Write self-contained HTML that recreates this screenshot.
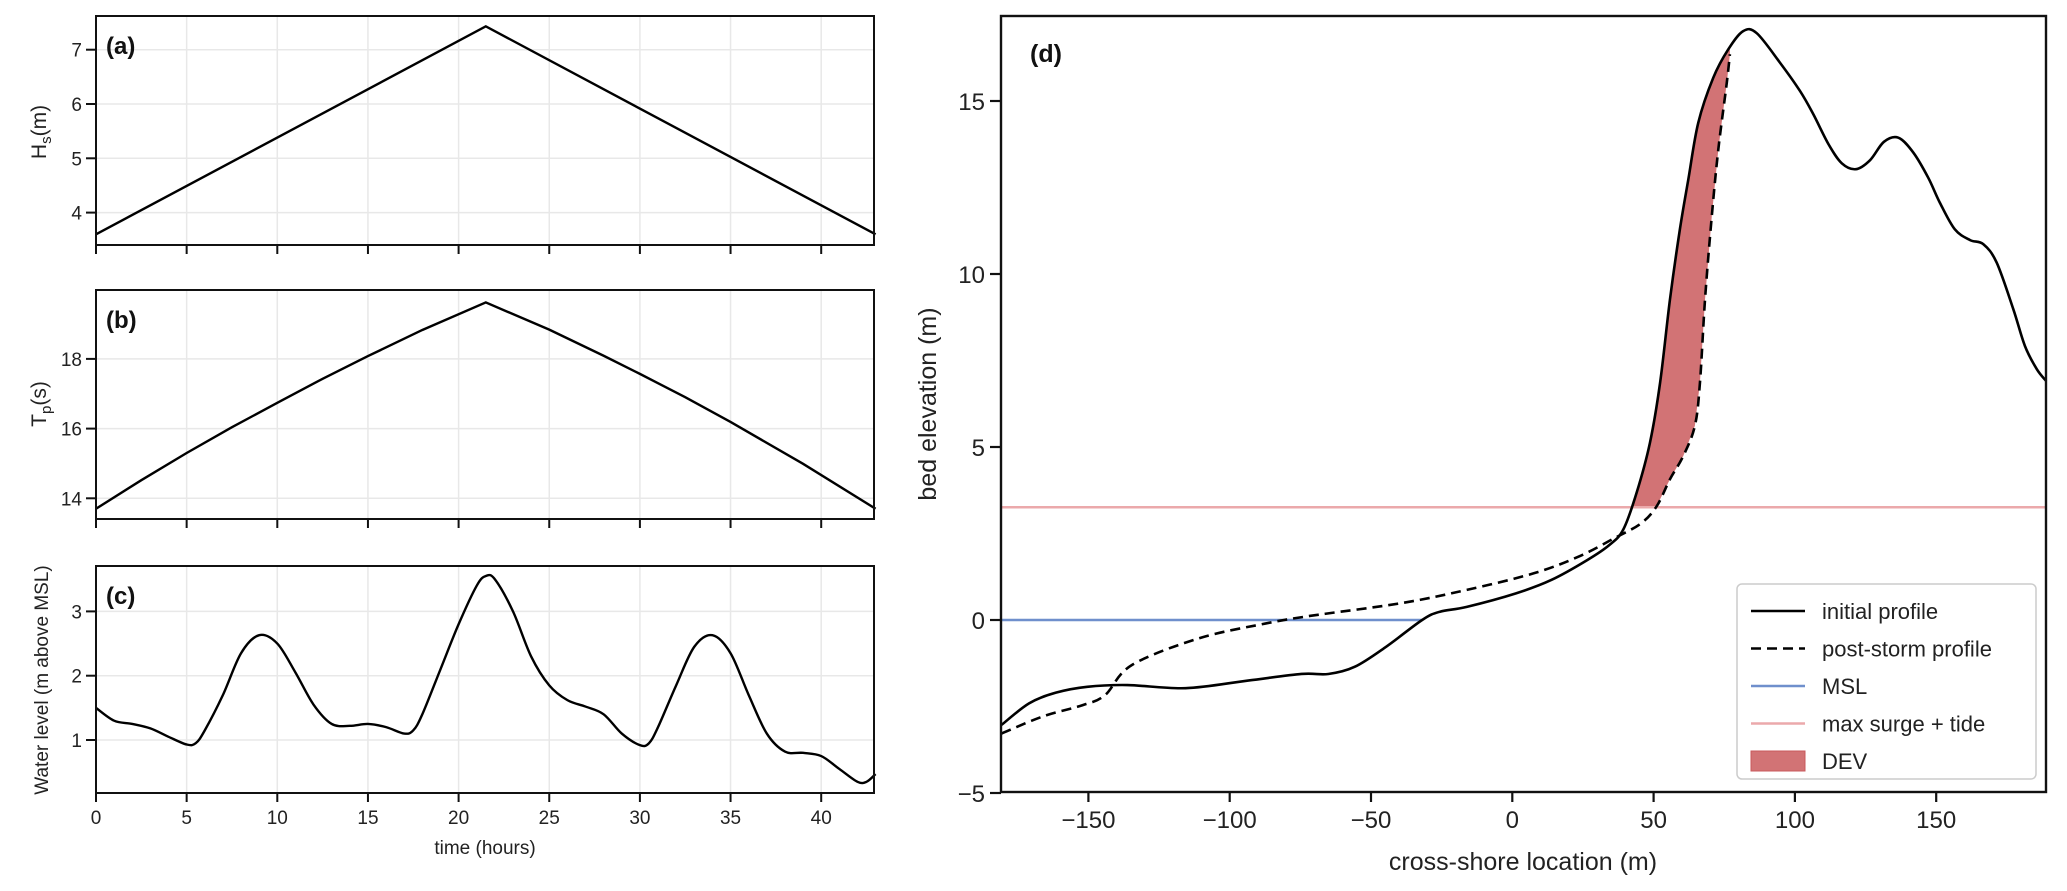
<!DOCTYPE html>
<html><head><meta charset="utf-8"><style>
body{margin:0;background:#fff;}
svg{display:block;font-family:"Liberation Sans",Arial,sans-serif;}
</style></head><body>
<svg id="fig" width="2067" height="891" viewBox="0 0 2067 891"></svg>
<script>
// ---------- data ----------
const hsTime=[0,21.5,43];
const hsVals=[3.6,7.43,3.6];
const tpTime=[0,2.5,5,7.5,10,12.5,15,18,21.5,25,28,30,32.5,35,39,43];
const tpVals=[13.7,14.52,15.3,16.04,16.74,17.43,18.08,18.83,19.62,18.84,18.09,17.57,16.9,16.19,14.99,13.7];
const wlTime=[0,1,2,3,4,5,5.5,6,7,8,9,10,11,12,13,14,15,16,17,17.5,18,19,20,21,21.5,22,23,24,25,26,27,28,29,30,30.5,31,32,33,34,35,36,37,38,39,40,41,42,42.5,43];
const wlVals=[1.5,1.3,1.25,1.18,1.05,0.93,0.95,1.15,1.7,2.35,2.63,2.5,2.05,1.55,1.25,1.22,1.25,1.2,1.1,1.15,1.4,2.1,2.8,3.4,3.55,3.5,3.0,2.3,1.85,1.62,1.52,1.4,1.1,0.92,0.95,1.2,1.85,2.45,2.63,2.35,1.7,1.1,0.82,0.8,0.75,0.55,0.35,0.35,0.47];
const timeTicks=[0,5,10,15,20,25,30,35,40];
const hsTicks=[4,5,6,7];
const tpTicks=[14,16,18];
const wlTicks=[1,2,3];
const initX=[-180.7,-171,-161.5,-150.4,-136.2,-115.6,-93.5,-74.6,-65.1,-55.7,-44.6,-31.9,-25.6,-16.1,1.3,13.9,26.5,34.4,39.3,44,48.7,52.3,55.8,59.3,62.3,65.8,71.1,76.4,81.7,86.5,94.7,101.8,106.5,111.9,116.6,121.6,126.6,131.5,136.6,141.9,147.2,151.3,156.6,162,166.7,171.4,177.3,181.4,185.6,188.9];
const initZ=[-3.03,-2.41,-2.10,-1.93,-1.88,-1.97,-1.75,-1.56,-1.56,-1.35,-0.77,0,0.24,0.38,0.77,1.16,1.73,2.17,2.62,3.68,5.12,6.86,9.27,11.29,12.74,14.37,15.67,16.49,17.02,16.96,16.11,15.29,14.62,13.75,13.2,13.03,13.29,13.82,13.94,13.51,12.78,12.06,11.29,10.98,10.86,10.33,8.98,7.92,7.25,6.91];
const postX=[-180.7,-166.2,-152,-144.1,-134.6,-110.9,-87.2,-71.4,-39.8,-16.1,7.6,23.4,36,45.5,51.1,55.8,60.5,64.6,66.4,68.2,70.6,72.9,75.9,77.0];
const postZ=[-3.28,-2.79,-2.46,-2.17,-1.30,-0.53,-0.10,0.12,0.48,0.87,1.35,1.83,2.36,2.79,3.29,4.07,4.74,5.61,6.86,9.27,11.68,13.6,15.53,16.35];
const mslLevel=0, mslEnd=-31.9;
const surgeLevel=3.26;
const xTicksD=[-150,-100,-50,0,50,100,150];
const yTicksD=[-5,0,5,10,15];

// ---------- helpers ----------
const NS="http://www.w3.org/2000/svg";
const svg=document.getElementById('fig');
function mk(tag,attrs,parent){const e=document.createElementNS(NS,tag);for(const k in attrs)e.setAttribute(k,attrs[k]);(parent||svg).appendChild(e);return e;}
function smooth(pts){let d=`M${pts[0][0]},${pts[0][1]}`;for(let i=0;i<pts.length-1;i++){const p0=pts[Math.max(0,i-1)],p1=pts[i],p2=pts[i+1],p3=pts[Math.min(pts.length-1,i+2)];
const c1=[p1[0]+(p2[0]-p0[0])/6,p1[1]+(p2[1]-p0[1])/6],c2=[p2[0]-(p3[0]-p1[0])/6,p2[1]-(p3[1]-p1[1])/6];d+=` C${c1[0]},${c1[1]} ${c2[0]},${c2[1]} ${p2[0]},${p2[1]}`;}return d;}
const tx=t=>96+t*18.13;

// ---------- left panels ----------
const panels=[
 {name:'hs',top:16,bot:245,y:v=>212.6-(v-4)*54.3,ticks:hsTicks,t:hsTime,v:hsVals,lab:'(a)',smooth:false},
 {name:'tp',top:290,bot:519,y:v=>498.3-(v-14)*34.85,ticks:tpTicks,t:tpTime,v:tpVals,lab:'(b)',smooth:false},
 {name:'wl',top:566,bot:793,y:v=>740-(v-1)*64.3,ticks:wlTicks,t:wlTime,v:wlVals,lab:'(c)',smooth:true}
];
panels.forEach((p,pi)=>{
 const g=mk('g',{});
 
 
 timeTicks.forEach(t=>{const l=mk('line',{x1:tx(t),x2:tx(t),y1:p.top,y2:p.bot,stroke:'#e8e8e8','stroke-width':1.5},g);
  
  const k=mk('line',{x1:tx(t),x2:tx(t),y1:p.bot,y2:p.bot+9,stroke:'#111','stroke-width':2},g);
  
  if(pi===2){const tl=mk('text',{x:tx(t),y:p.bot+31,'text-anchor':'middle','font-size':19,fill:'#222'},g);tl.textContent=t;
   }
 });
 p.ticks.forEach(v=>{const y=p.y(v);
  const l=mk('line',{x1:96,x2:874,y1:y,y2:y,stroke:'#e8e8e8','stroke-width':1.5},g);
  
  const k=mk('line',{x1:86,x2:96,y1:y,y2:y,stroke:'#111','stroke-width':2},g);
  
  const tl=mk('text',{x:82,y:y+7,'text-anchor':'end','font-size':19,fill:'#222'},g);tl.textContent=v;
  
 });
 const pts=p.t.map((t,i)=>[tx(t),p.y(p.v[i])]);
 const path=mk('path',{d:p.smooth?smooth(pts):'M'+pts.map(q=>q.join(',')).join(' L'),fill:'none',stroke:'#000','stroke-width':2.4},g);
 
 const fr=mk('rect',{x:96,y:p.top,width:778,height:p.bot-p.top,fill:'none',stroke:'#111','stroke-width':2},g);
 
 const lb=mk('text',{x:106,y:p.top+38,'font-size':24,'font-weight':'bold',fill:'#111'},g);lb.textContent=p.lab;
 
});
// y labels left
(function(){
 const a=mk('text',{transform:'translate(46,132) rotate(-90)','text-anchor':'middle','font-size':21,fill:'#222'});
 a.innerHTML='H<tspan font-size="15" dy="5">s</tspan><tspan dy="-5">(m)</tspan>';
 
 const b=mk('text',{transform:'translate(46,404) rotate(-90)','text-anchor':'middle','font-size':21,fill:'#222'});
 b.innerHTML='T<tspan font-size="15" dy="5">p</tspan><tspan dy="-5">(s)</tspan>';
 
 const c=mk('text',{transform:'translate(48,680) rotate(-90)','text-anchor':'middle','font-size':19,fill:'#222'});
 c.textContent='Water level (m above MSL)';
 
 const x=mk('text',{x:485,y:854,'text-anchor':'middle','font-size':19,fill:'#222'});x.textContent='time (hours)';
 
})();

// ---------- panel d ----------
const L=1001,R=2046,T=16,B=792;
const dx=m=>1512.3+m*2.826, dy=v=>620-v*34.6;
const gd=mk('g',{});


function interp(xs,zs,x){for(let i=0;i<xs.length-1;i++){if(x>=xs[i]&&x<=xs[i+1]){const f=(x-xs[i])/(xs[i+1]-xs[i]);return zs[i]+f*(zs[i+1]-zs[i]);}}return zs[zs.length-1];}
(function(){
 let xs0=null;for(let i=0;i<initX.length-1;i++){if(initZ[i]<=surgeLevel&&initZ[i+1]>surgeLevel){xs0=initX[i]+(surgeLevel-initZ[i])/(initZ[i+1]-initZ[i])*(initX[i+1]-initX[i]);break;}}
 let xp0=null;for(let i=0;i<postX.length-1;i++){if(postZ[i]<=surgeLevel&&postZ[i+1]>surgeLevel){xp0=postX[i]+(surgeLevel-postZ[i])/(postZ[i+1]-postZ[i])*(postX[i+1]-postX[i]);break;}}
 const xEnd=postX[postX.length-1];
 const top=[[xs0,surgeLevel]];initX.forEach((x,i)=>{if(x>xs0&&x<xEnd)top.push([x,initZ[i]]);});top.push([xEnd,interp(initX,initZ,xEnd)]);
 const bot=[];postX.forEach((x,i)=>{if(x>xp0)bot.push([x,postZ[i]]);});bot.reverse();bot.push([xp0,surgeLevel]);
 const pts=top.concat(bot).map(q=>[dx(q[0]),dy(q[1])]);
 const p=mk('path',{d:'M'+pts.map(q=>q.join(',')).join(' L')+'Z',fill:'#d27375',stroke:'none'},gd);
 
})();
const ms=mk('line',{x1:L,x2:dx(mslEnd),y1:dy(mslLevel),y2:dy(mslLevel),stroke:'#6f8fcc','stroke-width':2.5},gd);

const sg=mk('line',{x1:L,x2:R,y1:dy(surgeLevel),y2:dy(surgeLevel),stroke:'#eba9ab','stroke-width':2.5},gd);

const ip=mk('path',{d:smooth(initX.map((x,i)=>[dx(x),dy(initZ[i])])),fill:'none',stroke:'#000','stroke-width':2.6},gd);

const pp=mk('path',{d:smooth(postX.map((x,i)=>[dx(x),dy(postZ[i])])),fill:'none',stroke:'#000','stroke-width':2.6,'stroke-dasharray':'10,6'},gd);

const fd=mk('rect',{x:L,y:T,width:R-L,height:B-T,fill:'none',stroke:'#111','stroke-width':2.4},gd);

xTicksD.forEach(m=>{
 const k=mk('line',{x1:dx(m),x2:dx(m),y1:B,y2:B+10,stroke:'#111','stroke-width':2.2},gd);
 
 const t=mk('text',{x:dx(m),y:B+36,'text-anchor':'middle','font-size':24,fill:'#222'},gd);t.textContent=m<0?'\u2212'+(-m):m;
 
});
yTicksD.forEach(v=>{
 const k=mk('line',{x1:L-11,x2:L,y1:dy(v),y2:dy(v),stroke:'#111','stroke-width':2.2},gd);
 
 const t=mk('text',{x:L-16,y:dy(v)+9,'text-anchor':'end','font-size':24,fill:'#222'},gd);t.textContent=v<0?'\u2212'+(-v):v;
 
});
const xl=mk('text',{x:1523,y:870,'text-anchor':'middle','font-size':25,fill:'#222'},gd);xl.textContent='cross-shore location (m)';

const yl=mk('text',{transform:'translate(936,404) rotate(-90)','text-anchor':'middle','font-size':25,fill:'#222'},gd);yl.textContent='bed elevation (m)';

const dl=mk('text',{x:1030,y:62,'font-size':25,'font-weight':'bold',fill:'#111'},gd);dl.textContent='(d)';

// legend
const lg=mk('g',{},gd);


const lb=mk('rect',{x:1737,y:584,width:299,height:195,rx:5,fill:'#fff','fill-opacity':0.9,stroke:'#ccc','stroke-width':1.5},lg);

const entries=[['initial profile','solid'],['post-storm profile','dash'],['MSL','msl'],['max surge + tide','surge'],['DEV','dev']];
entries.forEach((e,i)=>{const y=611+i*37.5;
 const g=mk('g',{},lg);
 
 
 if(e[1]==='dev'){mk('rect',{x:1751,y:y-10,width:54,height:20,fill:'#d27375',stroke:'#c85a5c','stroke-width':1},g);}
 else{const c={solid:'#000',dash:'#000',msl:'#6f8fcc',surge:'#eba9ab'}[e[1]];
  const a={x1:1751,x2:1805,y1:y,y2:y,stroke:c,'stroke-width':2.6};if(e[1]==='dash')a['stroke-dasharray']='10,6';mk('line',a,g);}
 const t=mk('text',{x:1822,y:y+8,'font-size':22,fill:'#222'},g);t.textContent=e[0];
});
</script>
</body></html>
